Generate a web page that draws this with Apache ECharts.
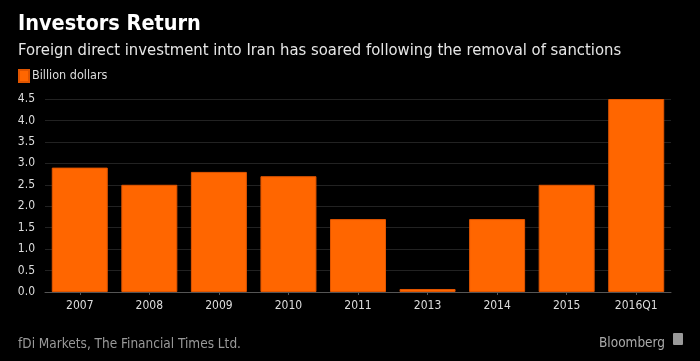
<!DOCTYPE html>
<html><head><meta charset="utf-8">
<script src="https://cdn.jsdelivr.net/npm/echarts@6/dist/echarts.min.js"></script>
<style>html,body{margin:0;padding:0;background:#000;}#c{width:700px;height:361px;}</style>
</head><body><div id="c"></div>
<script>
const categories = ['2007','2008','2009','2010','2011','2013','2014','2015','2016Q1'];
const values = [2.9, 2.5, 2.8, 2.7, 1.7, 0.07, 1.7, 2.5, 4.5];
const yTicks = [0, 0.5, 1, 1.5, 2, 2.5, 3, 3.5, 4, 4.5];
const F = '"DejaVu Sans Condensed","DejaVu Sans",sans-serif';
const chart = echarts.init(document.getElementById('c'));
chart.setOption({
  backgroundColor: '#000',
  animation: false,
  title: [
    {text: 'Investors Return', left: 13, top: 8, textStyle: {color: '#fff', fontSize: 21.5, fontWeight: 'bold', fontFamily: F}},
    {text: 'Foreign direct investment into Iran has soared following the removal of sanctions', left: 13, top: 37, textStyle: {color: '#e6e6e6', fontSize: 16.5, fontWeight: 'normal', fontFamily: F}},
    {text: 'fDi Markets, The Financial Times Ltd.', left: 13, top: 332, textStyle: {color: '#999', fontSize: 13.5, fontWeight: 'normal', fontFamily: F}},
    {text: 'Bloomberg', left: 594, top: 331, textStyle: {color: '#aaa', fontSize: 13.5, fontWeight: 'normal', fontFamily: F}}
  ],
  graphic: [
    {type: 'rect', left: 673, top: 333, shape: {width: 10, height: 12, r: 1}, style: {fill: '#999'}}
  ],
  legend: {
    left: 13, top: 64, itemWidth: 10, itemHeight: 12, icon: 'rect', itemGap: 4,
    textStyle: {color: '#ddd', fontSize: 12.5, fontFamily: F, padding: [0,0,0,-2]},
    data: ['Billion dollars']
  },
  grid: {left: 45, right: 29, top: 99, bottom: 69, containLabel: false},
  xAxis: {
    type: 'category', data: categories,
    axisLine: {lineStyle: {color: '#555', width: 1}},
    axisTick: {show: true, alignWithLabel: true, length: 3, lineStyle: {color: '#555'}},
    axisLabel: {color: '#ddd', fontSize: 12, fontFamily: F, margin: 8}
  },
  yAxis: {
    type: 'value', min: 0, max: 4.5, interval: 0.5,
    axisLine: {show: false}, axisTick: {show: false},
    axisLabel: {color: '#ddd', fontSize: 12, fontFamily: F, margin: 10,
      formatter: v => yTicks.includes(v) ? v.toFixed(1) : ''},
    splitLine: {lineStyle: {color: '#222', width: 1}}
  },
  series: [{
    name: 'Billion dollars', type: 'bar', data: values, barWidth: 56,
    itemStyle: {color: '#ff6600', borderColor: '#e05500', borderWidth: 1}
  }]
});
</script></body></html>
